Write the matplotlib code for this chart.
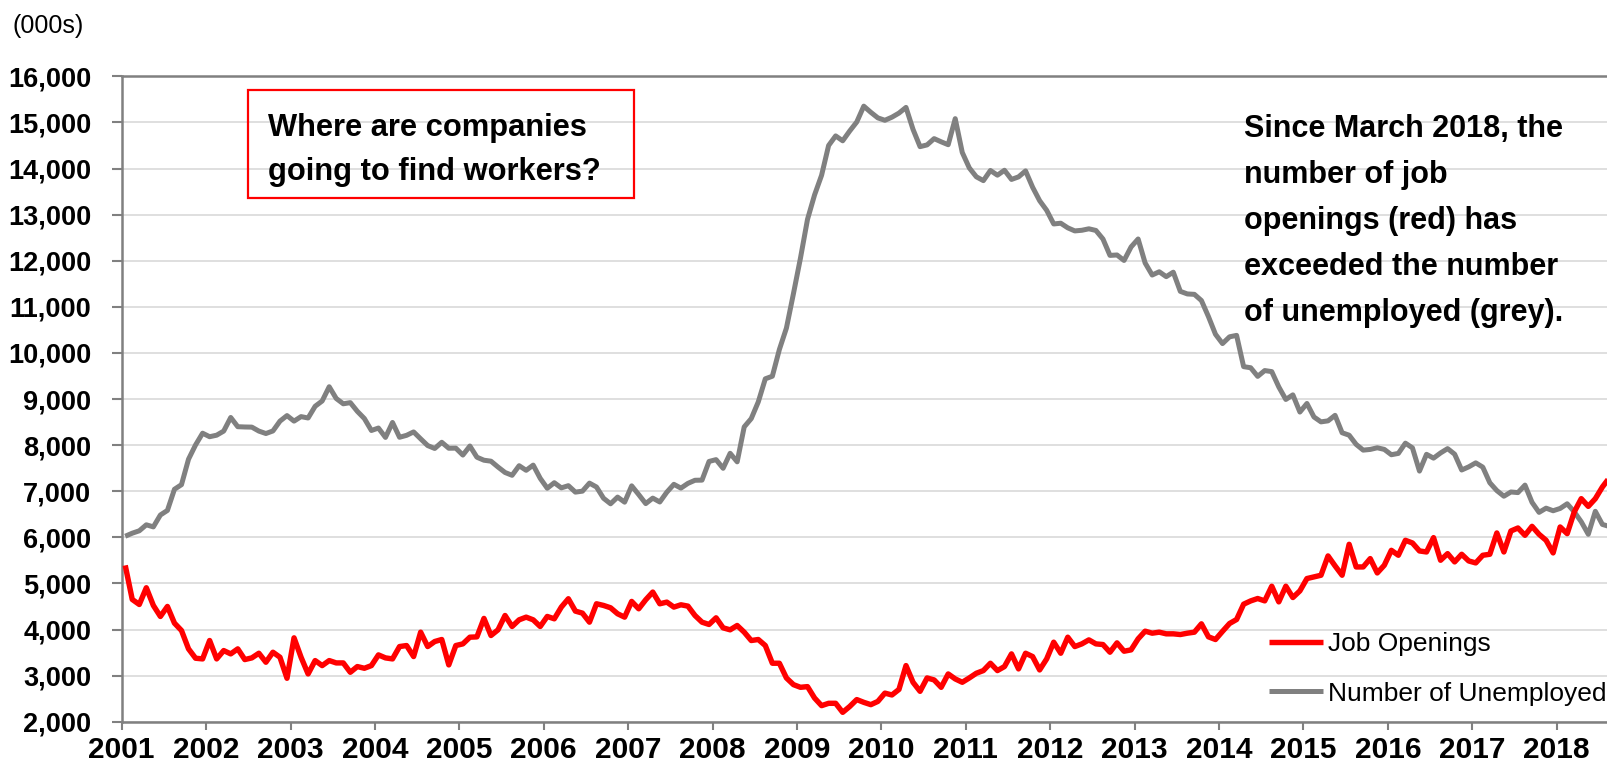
import matplotlib
matplotlib.use("Agg")
import matplotlib.pyplot as plt
from matplotlib.patches import Rectangle
from matplotlib.ticker import FuncFormatter, FixedLocator

# ---------------- data (thousands, monthly Jan 2001 - Aug 2018) ----------------
years = list(range(2001, 2019))
year_labels = [str(y) for y in years]

job_openings = [
    5391, 4652, 4543, 4906, 4522, 4283, 4500, 4138, 3978, 3580, 3377, 3362,  # 2001
    3761, 3362, 3543, 3471, 3580, 3348, 3384, 3485, 3290, 3507, 3398, 2942,  # 2002
    3819, 3398, 3036, 3326, 3217, 3326, 3275, 3275, 3072, 3196, 3159, 3217,  # 2003
    3449, 3384, 3362, 3630, 3652, 3413, 3942, 3630, 3739, 3783, 3232, 3652,  # 2004
    3688, 3833, 3840, 4240, 3870, 3993, 4304, 4065, 4210, 4268, 4210, 4065,  # 2005
    4283, 4232, 4486, 4667, 4399, 4355, 4159, 4558, 4522, 4471, 4341, 4268,  # 2006
    4609, 4449, 4645, 4812, 4558, 4594, 4486, 4536, 4507, 4304, 4159, 4109,  # 2007
    4254, 4036, 3993, 4087, 3942, 3761, 3783, 3652, 3268, 3268, 2949, 2804,  # 2008
    2746, 2761, 2514, 2348, 2399, 2399, 2203, 2330, 2480, 2420, 2370, 2440,  # 2009
    2620, 2580, 2700, 3217, 2855, 2659, 2949, 2906, 2746, 3036, 2928, 2855,  # 2010
    2949, 3051, 3109, 3268, 3109, 3196, 3471, 3145, 3485, 3413, 3123, 3362,  # 2011
    3725, 3485, 3833, 3630, 3688, 3775, 3688, 3674, 3507, 3710, 3529, 3558,  # 2012
    3797, 3964, 3920, 3942, 3906, 3906, 3891, 3920, 3942, 4123, 3841, 3783,  # 2013
    3960, 4130, 4217, 4549, 4620, 4672, 4621, 4939, 4599, 4939, 4693, 4838,  # 2014
    5105, 5140, 5177, 5596, 5380, 5177, 5848, 5357, 5357, 5538, 5227, 5394,  # 2015
    5718, 5610, 5935, 5877, 5704, 5682, 5993, 5502, 5646, 5466, 5632, 5487,  # 2016
    5444, 5610, 5632, 6094, 5682, 6137, 6202, 6043, 6238, 6065, 5935, 5661,  # 2017
    6224, 6079, 6549, 6838, 6671, 6838, 7090, 7292,                          # 2018
]

unemployed = [
    6023, 6089, 6141, 6271, 6226, 6484, 6583, 7042, 7142, 7694, 8003, 8258,  # 2001
    8182, 8215, 8304, 8599, 8399, 8393, 8390, 8304, 8251, 8307, 8520, 8640,  # 2002
    8520, 8618, 8588, 8842, 8957, 9266, 9011, 8896, 8921, 8732, 8576, 8317,  # 2003
    8370, 8167, 8491, 8170, 8212, 8286, 8136, 7990, 7927, 8061, 7932, 7934,  # 2004
    7784, 7980, 7737, 7672, 7651, 7524, 7406, 7345, 7553, 7453, 7566, 7279,  # 2005
    7064, 7184, 7072, 7120, 6980, 7001, 7175, 7091, 6847, 6727, 6872, 6762,  # 2006
    7116, 6927, 6731, 6850, 6766, 6979, 7149, 7067, 7170, 7237, 7240, 7645,  # 2007
    7685, 7497, 7822, 7637, 8395, 8575, 8937, 9438, 9494, 10074, 10538, 11286,  # 2008
    12058, 12898, 13426, 13853, 14499, 14707, 14601, 14814, 15009, 15352, 15219, 15098,  # 2009
    15046, 15113, 15202, 15325, 14849, 14474, 14512, 14648, 14579, 14516, 15081, 14348,  # 2010
    14013, 13820, 13737, 13957, 13855, 13962, 13763, 13818, 13948, 13594, 13302, 13093,  # 2011
    12797, 12813, 12713, 12646, 12660, 12692, 12656, 12471, 12115, 12124, 12005, 12298,  # 2012
    12471, 11950, 11689, 11760, 11654, 11751, 11335, 11279, 11270, 11136, 10787, 10404,  # 2013
    10202, 10349, 10380, 9702, 9678, 9491, 9617, 9594, 9262, 8990, 9090, 8717,  # 2014
    8903, 8610, 8504, 8526, 8646, 8268, 8215, 8015, 7891, 7906, 7942, 7907,  # 2015
    7791, 7820, 8042, 7940, 7436, 7800, 7717, 7830, 7924, 7803, 7460, 7528,  # 2016
    7615, 7522, 7183, 7013, 6891, 6983, 6970, 7132, 6759, 6541, 6632, 6576,  # 2017
    6626, 6727, 6554, 6337, 6065, 6564, 6280, 6234,                          # 2018
]

series_names = ["Job Openings", "Number of Unemployed"]
y_ticks = list(range(2000, 16001, 1000))

# month positions (centre of each month on a month-based axis)
months = [i + 0.5 for i in range(len(job_openings))]
year_ticks = [12 * i for i in range(len(years))]

# ---------------- figure ----------------
W, H = 1608, 767
fig = plt.figure(figsize=(W / 100, H / 100), dpi=100)
fig.patch.set_facecolor("white")

ax_left = 121.7 / W
ax_bottom = 1 - 721.7 / H
ax_top = 1 - 76.3 / H
ax_width = (212 * 7.034) / W
ax = fig.add_axes([ax_left, ax_bottom, ax_width, ax_top - ax_bottom])

RED = "#ff0000"
GREY = "#808080"

l_un, = ax.plot(months, unemployed, color=GREY, lw=3.6, solid_joinstyle="round",
                solid_capstyle="butt", zorder=3)
l_jo, = ax.plot(months, job_openings, color=RED, lw=3.9, solid_joinstyle="round",
                solid_capstyle="butt", zorder=4)

ax.set_xlim(0, 212)
ax.set_ylim(2000, 16000)

ax.yaxis.set_major_locator(FixedLocator(y_ticks))
ax.yaxis.set_major_formatter(FuncFormatter(lambda v, p: f"{int(v):,}"))
ax.xaxis.set_major_locator(FixedLocator(year_ticks))
ax.set_xticklabels(year_labels)

ax.grid(axis="y", color="#d9d9d9", lw=1.2, zorder=0)
ax.set_axisbelow(True)

for s in ["left", "bottom", "top"]:
    ax.spines[s].set_color(GREY)
    ax.spines[s].set_linewidth(1.8)
ax.spines["right"].set_visible(False)

ax.tick_params(axis="y", direction="out", length=7, width=1.5, color=GREY, pad=15)
ax.tick_params(axis="x", direction="out", length=6, width=1.5, color=GREY, pad=4)
for lab in ax.get_yticklabels():
    lab.set_fontfamily("Liberation Sans")
    lab.set_fontweight("bold")
    lab.set_fontsize(19.5)
    lab.set_color("black")
for lab in ax.get_xticklabels():
    lab.set_fontfamily("Liberation Sans")
    lab.set_fontweight("bold")
    lab.set_fontsize(21.5)
    lab.set_color("black")

# ---------------- annotations ----------------
fig.text(12.7 / W, 1 - 26 / H, "(000s)", family="Liberation Sans", size=18,
         va="center", ha="left")

box = Rectangle((248.3 / W, 1 - 198 / H), (634 - 248.3) / W, (198 - 90) / H,
                transform=fig.transFigure, fill=False, edgecolor=RED, lw=1.6)
fig.add_artist(box)
for txt, base in [("Where are companies", 136), ("going to find workers?", 180)]:
    fig.text(268.3 / W, 1 - base / H, txt, family="Liberation Sans", weight="bold",
             size=22.2, va="baseline", ha="left")

note_lines = ["Since March 2018, the", "number of job", "openings (red) has",
              "exceeded the number", "of unemployed (grey)."]
for i, txt in enumerate(note_lines):
    fig.text(1244.3 / W, 1 - (136.7 + 46 * i) / H, txt, family="Liberation Sans",
             weight="bold", size=22, va="baseline", ha="left")

leg = ax.legend([l_jo, l_un], series_names, loc="center left",
                bbox_to_anchor=(1269 / W, 1 - 669 / H), bbox_transform=fig.transFigure,
                frameon=False, borderpad=0, borderaxespad=0, handlelength=2.06,
                handletextpad=0.17, labelspacing=0.95,
                prop=dict(family="Liberation Sans", size=19))

fig.savefig("out.png", dpi=100, facecolor="white")
